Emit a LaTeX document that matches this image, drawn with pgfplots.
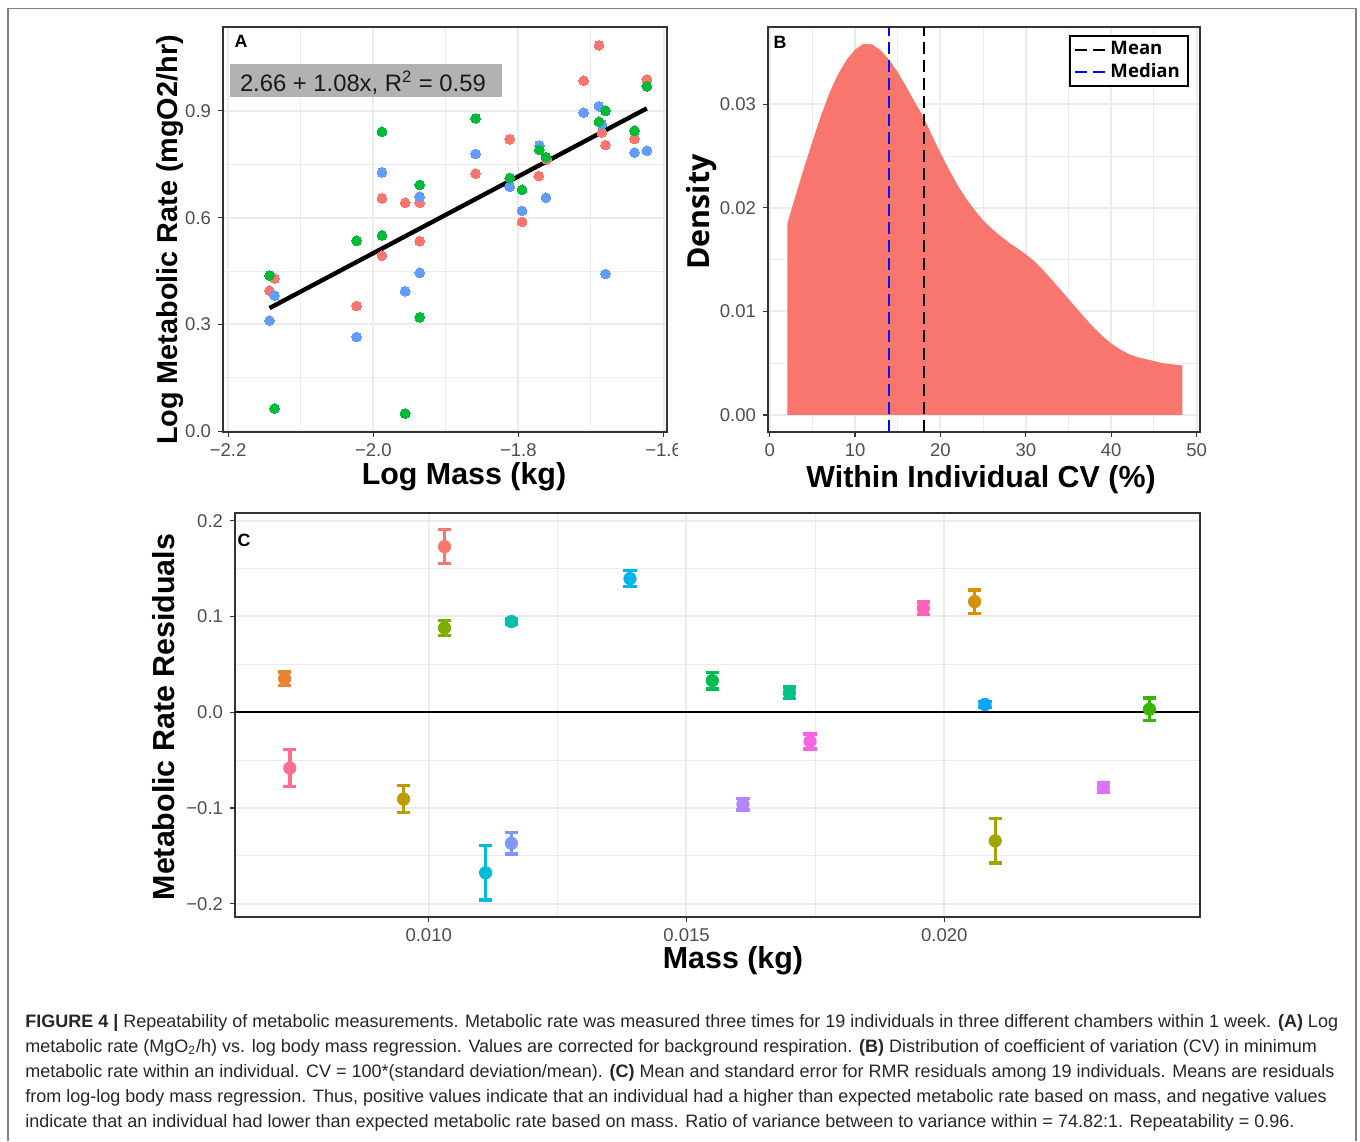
\documentclass[border=0pt]{standalone}
\usepackage{fontspec}
\setmainfont{Liberation Sans}
\newfontfamily\opensans{Open Sans}
\usepackage{pgfplots}
\pgfplotsset{compat=1.18}

\definecolor{gridc}{HTML}{EBEBEB}
\definecolor{framec}{HTML}{333333}
\definecolor{tickc}{HTML}{4D4D4D}
\definecolor{chA}{HTML}{F8766D}
\definecolor{chB}{HTML}{00BA38}
\definecolor{chC}{HTML}{619CFF}
\definecolor{c01}{HTML}{F8766D}
\definecolor{c02}{HTML}{EA8331}
\definecolor{c03}{HTML}{D89000}
\definecolor{c04}{HTML}{C09B00}
\definecolor{c05}{HTML}{A3A500}
\definecolor{c06}{HTML}{7CAE00}
\definecolor{c07}{HTML}{39B600}
\definecolor{c08}{HTML}{00BB4E}
\definecolor{c09}{HTML}{00C08B}
\definecolor{c10}{HTML}{00C1AA}
\definecolor{c11}{HTML}{00BCD8}
\definecolor{c12}{HTML}{00B4EF}
\definecolor{c13}{HTML}{00A8FF}
\definecolor{c14}{HTML}{7F96FF}
\definecolor{c15}{HTML}{B385FF}
\definecolor{c16}{HTML}{DF70F8}
\definecolor{c17}{HTML}{F763E0}
\definecolor{c18}{HTML}{FF62BC}
\definecolor{c19}{HTML}{FF6C91}

\newcommand\ticksz{\fontsize{9.25}{11}\selectfont}
\newcommand\ttl{\bfseries\fontsize{15.2}{18}\selectfont}
\newcommand\plab{\bfseries\fontsize{8.9}{10}\selectfont}

\pgfplotsset{
  ggbw/.style={
    scale only axis,
    axis line style={draw=framec, line width=0.75pt},
    tick align=outside,
    tick pos=left,
    tick style={draw=framec, line width=0.6pt},
    major tick length=2.5pt,
    minor tick length=0pt,
    grid=both,
    minor tick num=1,
    major grid style={draw=gridc, line width=1pt},
    minor grid style={draw=gridc, line width=0.5pt},
    tick label style={font=\ticksz, text=tickc},
    scaled ticks=false,
  },
  sc/.style={color=#1, only marks, mark=*, mark size=2.45pt, mark options={line width=0pt}},
  pc/.style={color=#1, only marks, mark=*, mark size=3.1pt,
    error bars/.cd, y dir=both, y explicit,
    error bar style={line width=1.7pt, color=#1},
    error mark options={rotate=90, line width=1.7pt, mark size=3.3pt, color=#1}},
}

\begin{document}
\begin{tikzpicture}
\useasboundingbox (0,0) rectangle (680pt,-570.5pt);
\begin{scope}[x=0.5pt,y=-0.5pt]
\draw[black!50, line width=0.75pt] (8,1141) -- (8,8.5) -- (1356,8.5) -- (1356,1141);
\end{scope}

% ---------- A: regression ----------
\begin{axis}[ggbw, at={(111.5pt,-216pt)}, anchor=south west,
  width=222pt, height=202.5pt,
  xmin=-2.2071, xmax=-1.5952, ymin=-0.002, ymax=1.1355,
  xtick={-2.2,-2.0,-1.8,-1.6}, xticklabels={−2.2,−2.0,−1.8,−1.6},
  ytick={0,0.3,0.6,0.9}, yticklabels={0.0,0.3,0.6,0.9}]
\addplot[sc=chA] coordinates {(-1.689,1.084) (-1.710,0.985) (-1.623,0.988)
  (-1.812,0.820) (-1.640,0.821) (-1.685,0.839) (-1.680,0.804) (-1.859,0.724)
  (-1.772,0.717) (-1.988,0.654) (-1.956,0.642) (-1.936,0.642) (-1.936,0.534)
  (-1.988,0.493) (-1.795,0.588) (-1.761,0.764) (-2.136,0.429) (-2.143,0.395)
  (-2.023,0.352)};
\addplot[sc=chC] coordinates {(-1.689,0.913) (-1.710,0.895) (-1.685,0.862)
  (-1.640,0.783) (-1.623,0.788) (-1.771,0.803) (-1.859,0.779) (-1.812,0.687)
  (-1.762,0.656) (-1.795,0.619) (-1.988,0.727) (-1.936,0.659) (-1.936,0.445)
  (-1.956,0.393) (-1.680,0.442) (-2.136,0.381) (-2.143,0.311) (-2.023,0.265)};
\addplot[sc=chB] coordinates {(-1.623,0.969) (-1.680,0.900) (-1.689,0.869)
  (-1.640,0.844) (-1.859,0.879) (-1.988,0.841) (-1.771,0.790) (-1.762,0.770)
  (-1.812,0.711) (-1.795,0.678) (-1.936,0.692) (-1.988,0.550) (-2.023,0.535)
  (-2.143,0.438) (-1.936,0.320) (-2.136,0.064) (-1.956,0.050)};
% fitted line 2.66 + 1.08x
\addplot[black, line width=2.2pt] coordinates {(-2.143,0.346) (-1.623,0.907)};
\fill[black!30] (axis cs:-2.197,0.939) rectangle (axis cs:-1.823,1.031);
\node[font=\fontsize{11.9}{14}\selectfont, text=black!90] at (axis cs:-2.0143,0.9785)
  {2.66 + 1.08x, R\textsuperscript{2} = 0.59};
\end{axis}

% ---------- B: CV density ----------
\begin{axis}[ggbw, at={(384pt,-216pt)}, anchor=south west,
  width=216pt, height=202.5pt,
  xmin=-0.198, xmax=50.4, ymin=-0.00165, ymax=0.03747,
  xtick={0,10,20,30,40,50}, xticklabels={0,10,20,30,40,50},
  ytick={0,0.01,0.02,0.03}, yticklabels={0.00,0.01,0.02,0.03},
  legend style={at={(0.9743,0.9793)}, anchor=north east, draw=black,
    line width=1pt, fill=white, font=\opensans\bfseries\fontsize{9.3}{11}\selectfont,
    inner xsep=2pt, inner ysep=0.5pt, row sep=-1pt},
  legend cell align=left,
  legend image code/.code={\draw[#1] (0pt,0pt) -- (15pt,0pt);}]
\addplot[fill=chA, draw=none, forget plot] coordinates {(2.06,0.01846) (3,0.0211)
  (4,0.0238) (5,0.0264) (6,0.0289) (7,0.0311) (8,0.0329) (9,0.0343) (10,0.0353)
  (11,0.03585) (12,0.03578) (13,0.0352) (14,0.0343) (15,0.0331) (16,0.0317)
  (17,0.0302) (18,0.0288) (19,0.0270) (20,0.0253) (21,0.0237) (22,0.0222)
  (23,0.0209) (24,0.0198) (25,0.0188) (26,0.0180) (27,0.0173) (28,0.01665)
  (29,0.0161) (30,0.0155) (31,0.01485) (32,0.0140) (33,0.0131) (34,0.01215)
  (35,0.0112) (36,0.01025) (37,0.0093) (38,0.0084) (39,0.0076) (40,0.0069)
  (41,0.00635) (42,0.0059) (43,0.0056) (44,0.0054) (45,0.0052) (46,0.0050)
  (47,0.0049) (48.34,0.00478)} \closedcycle;
\addplot[black, line width=1pt, dash pattern=on 6pt off 3pt]
  coordinates {(18.08,-0.00165) (18.08,0.03747)};
\addlegendentry{Mean}
\addplot[blue, line width=1pt, dash pattern=on 6pt off 3pt]
  coordinates {(13.96,-0.00165) (13.96,0.03747)};
\addlegendentry{Median}
\end{axis}

% ---------- C: residuals ----------
\begin{axis}[ggbw, at={(117.5pt,-458.5pt)}, anchor=south west,
  width=482.5pt, height=202pt,
  xmin=0.006243, xmax=0.02496, ymin=-0.2139, ymax=0.208,
  xtick={0.010,0.015,0.020}, xticklabels={0.010,0.015,0.020},
  ytick={-0.2,-0.1,0,0.1,0.2}, yticklabels={−0.2,−0.1,0.0,0.1,0.2}]
\addplot[black, line width=1pt] coordinates {(0.006243,0) (0.02496,0)};
\addplot[pc=c01] coordinates {(0.010307,0.1729) +- (0,0.0177)};
\addplot[pc=c02] coordinates {(0.007206,0.0351) +- (0,0.0070)};
\addplot[pc=c03] coordinates {(0.020588,0.1155) +- (0,0.0123)};
\addplot[pc=c04] coordinates {(0.009512,-0.0908) +- (0,0.0141)};
\addplot[pc=c05] coordinates {(0.020988,-0.1343) +- (0,0.0231)};
\addplot[pc=c06] coordinates {(0.010307,0.0880) +- (0,0.0080)};
\addplot[pc=c07] coordinates {(0.023979,0.0031) +- (0,0.0117)};
\addplot[pc=c08] coordinates {(0.015501,0.0330) +- (0,0.0087)};
\addplot[pc=c09] coordinates {(0.016996,0.0202) +- (0,0.0060)};
\addplot[pc=c10] coordinates {(0.011604,0.0946) +- (0,0.0030)};
\addplot[pc=c11] coordinates {(0.011103,-0.1677) +- (0,0.0285)};
\addplot[pc=c12] coordinates {(0.013904,0.1395) +- (0,0.0085)};
\addplot[pc=c13] coordinates {(0.020788,0.0080) +- (0,0.0030)};
\addplot[pc=c14] coordinates {(0.011604,-0.1370) +- (0,0.0111)};
\addplot[pc=c15] coordinates {(0.016095,-0.0960) +- (0,0.0060)};
\addplot[pc=c16] coordinates {(0.023084,-0.0783) +- (0,0.0050)};
\addplot[pc=c17] coordinates {(0.017397,-0.0306) +- (0,0.0080)};
\addplot[pc=c18] coordinates {(0.019593,0.1085) +- (0,0.0065)};
\addplot[pc=c19] coordinates {(0.007306,-0.0584) +- (0,0.0195)};
\end{axis}

\begin{scope}[x=0.5pt,y=-0.5pt]
% cut the last tick label of A like the reference
\fill[white] (678,438) rectangle (700,465);
% panel letters
\node[font=\plab] at (241,41.5) {A};
\node[font=\plab] at (780,42) {B};
\node[font=\plab] at (244,540) {C};
% axis titles
\node[font=\bfseries\fontsize{14.4}{17}\selectfont, rotate=90, anchor=base] at (177,240) {Log Metabolic Rate (mgO2/hr)};
\node[font=\ttl, anchor=base] at (464,484) {Log Mass (kg)};
\node[font=\opensans\bfseries\fontsize{15.2}{18}\selectfont, rotate=90, anchor=base] at (709,212) {Density};
\node[font=\ttl, anchor=base] at (981,487) {Within Individual CV (\%)};
\node[font=\ttl, rotate=90, anchor=base] at (174,717) {Metabolic Rate Residuals};
\node[font=\ttl, anchor=base] at (733,968) {Mass (kg)};
% caption
\begin{scope}[every node/.style={anchor=base west, inner sep=0pt, text=black!85,
    font=\fontsize{9.0}{10}\selectfont}]
\node at (25,1027) {\textbf{FIGURE 4 |} Repeatability of metabolic measurements. Metabolic rate was measured three times for 19 individuals in three different chambers within 1 week. \textbf{(A)} Log};
\node at (25,1052) {metabolic rate (MgO\textsubscript{2}/h) vs. log body mass regression. Values are corrected for background respiration. \textbf{(B)} Distribution of coefficient of variation (CV) in minimum};
\node at (25,1077) {metabolic rate within an individual. CV = 100*(standard deviation/mean). \textbf{(C)} Mean and standard error for RMR residuals among 19 individuals. Means are residuals};
\node at (25,1102) {from log-log body mass regression. Thus, positive values indicate that an individual had a higher than expected metabolic rate based on mass, and negative values};
\node at (25,1127) {indicate that an individual had lower than expected metabolic rate based on mass. Ratio of variance between to variance within = 74.82:1. Repeatability = 0.96.};
\end{scope}
\end{scope}
\end{tikzpicture}
\end{document}
